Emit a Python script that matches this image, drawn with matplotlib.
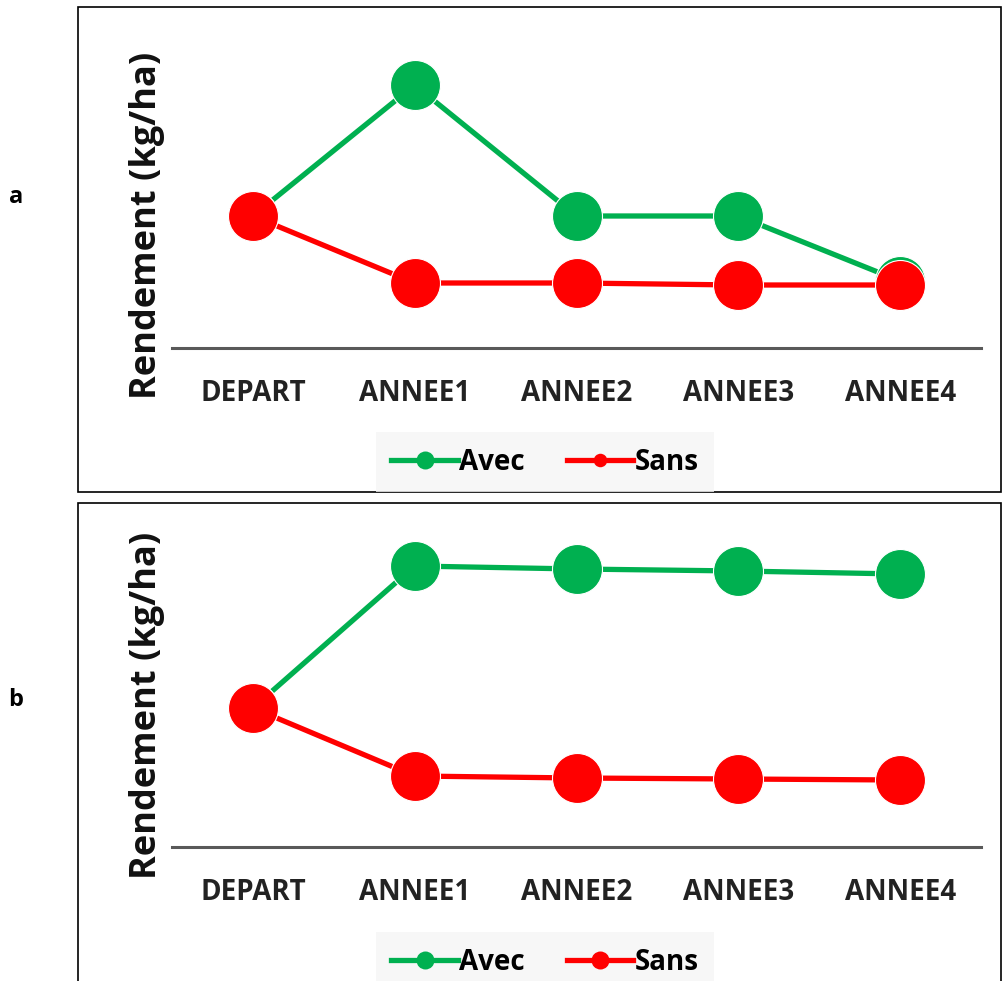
import matplotlib
matplotlib.use("Agg")
import matplotlib.pyplot as plt
from matplotlib.patches import Rectangle

categories = ["DEPART", "ANNEE1", "ANNEE2", "ANNEE3", "ANNEE4"]
# values in arbitrary units (no y scale on the original)
a_avec = [132, 263, 132, 132, 67]
a_sans = [132, 65, 65, 63, 63]
b_avec = [139, 281, 278, 276, 273]
b_sans = [139, 71, 69, 68, 67]
ylabel = "Rendement (kg/ha)"
panel_labels = ["a", "b"]

GREEN = "#00b050"
RED = "#ff0000"
W, H = 1003, 981
fig = plt.figure(figsize=(W / 100, H / 100), dpi=100)
plt.rcParams['font.family'] = ['Open Sans', 'DejaVu Sans']

def fx(px):
    return px / W

def fy(py):
    return 1 - py / H

# frames
fig.patches.append(Rectangle((fx(78), fy(492)), fx(1001) - fx(78), fy(7) - fy(492),
                             transform=fig.transFigure, fill=False, edgecolor="black", lw=1.2))
fig.patches.append(Rectangle((fx(78), fy(990)), fx(1001) - fx(78), fy(503) - fy(990),
                             transform=fig.transFigure, fill=False, edgecolor="black", lw=1.2))

panels = [
    (a_avec, a_sans, 348, 225, 197, 462, (0.36, 0.27)),
    (b_avec, b_sans, 847, 705, 700, 962, (0.36, 0.36)),
]
for i, (avec, sans, base, lab_y, pl_y, leg_y, ms_scale) in enumerate(panels):
    ax = fig.add_axes([fx(172), fy(base), fx(981) - fx(172), 320 / H])
    x = range(len(categories))
    ax.plot(x, avec, color=GREEN, lw=3.8, marker="o", ms=36, mec="white", mew=0.8,
            label="Avec", zorder=3)
    ax.plot(x, sans, color=RED, lw=3.8, marker="o", ms=36, mec="white", mew=0.8,
            label="Sans", zorder=4)
    ax.set_xlim(-0.5, 4.5)
    ax.set_ylim(0, 320)
    ax.set_xticks(list(x))
    ax.set_xticklabels(categories, fontsize=20, fontweight="bold", color="#222222")
    ax.set_yticks([])
    for s in ["top", "right", "left"]:
        ax.spines[s].set_visible(False)
    ax.spines["bottom"].set_color("#595959")
    ax.spines["bottom"].set_linewidth(2.2)
    ax.tick_params(axis="x", length=0, pad=22)
    ax.patch.set_alpha(0)
    for ln in ax.lines:
        ln.set_clip_on(False)
    fig.text(fx(147), fy(lab_y), ylabel, rotation=90, ha="center", va="center",
             fontsize=26, fontweight="bold", color="#111111")
    fig.text(fx(16), fy(pl_y), panel_labels[i], ha="center", va="center",
             fontsize=17, fontweight="bold")
    leg = fig.legend(handles=ax.lines, labels=["Avec", "Sans"], loc="center",
                     bbox_to_anchor=(fx(545), fy(leg_y)), ncol=2, frameon=True,
                     fancybox=False, facecolor="#f5f5f5", edgecolor="none",
                     markerscale=1, handlelength=2.4, handletextpad=0.05,
                     columnspacing=1.5, borderpad=0.55, borderaxespad=0,
                     prop={"size": 20, "weight": "bold"})
    for h, sc in zip(leg.legend_handles, ms_scale):
        h.set_markeredgewidth(0)
        h.set_markersize(36 * sc)

fig.savefig("out.png", dpi=100)
